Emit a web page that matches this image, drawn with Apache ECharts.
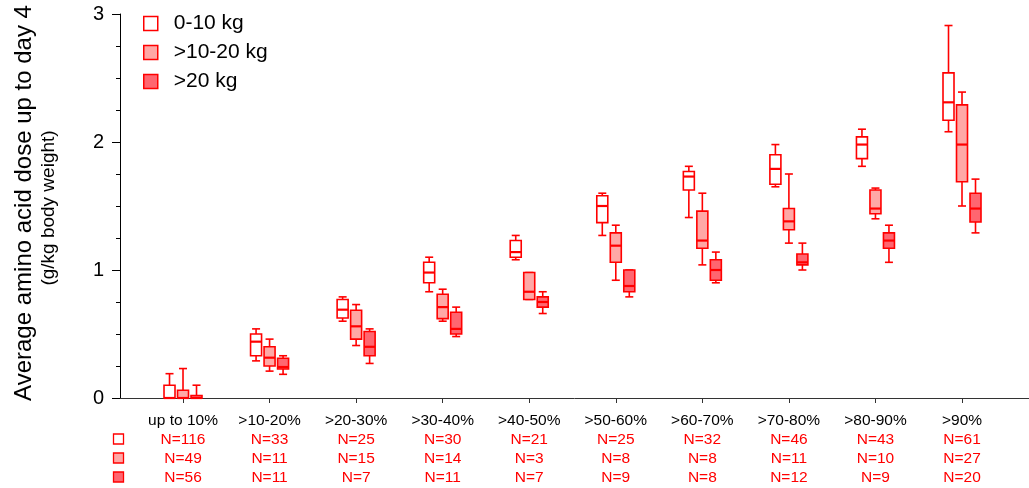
<!DOCTYPE html>
<html>
<head>
<meta charset="utf-8">
<title>Average amino acid dose up to day 4</title>
<script src="https://cdn.jsdelivr.net/npm/echarts@6/dist/echarts.min.js"></script>
<style>
  html, body { margin: 0; padding: 0; background: #fff; }
  #chart { width: 1029px; height: 488px; }
</style>
</head>
<body>
<div id="chart"></div>
<script>
// Percentile groups on the x axis
const categories = ['up to 10%', '>10-20%', '>20-30%', '>30-40%', '>40-50%',
                    '>50-60%', '>60-70%', '>70-80%', '>80-90%', '>90%'];

// Weight classes
const seriesNames = ['0-10 kg', '>10-20 kg', '>20 kg'];

// Box statistics per group: [min, Q1, median, Q3, max] in g/kg body weight
const boxes0to10 = [
  [0.00, 0.00, 0.00, 0.10, 0.19],
  [0.29, 0.33, 0.44, 0.50, 0.54],
  [0.60, 0.625, 0.69, 0.77, 0.79],
  [0.83, 0.90, 0.98, 1.06, 1.10],
  [1.08, 1.10, 1.14, 1.23, 1.27],
  [1.27, 1.37, 1.50, 1.58, 1.60],
  [1.41, 1.625, 1.73, 1.77, 1.81],
  [1.65, 1.67, 1.79, 1.90, 1.98],
  [1.81, 1.87, 1.98, 2.04, 2.10],
  [2.08, 2.17, 2.31, 2.54, 2.91]
];
const boxes10to20 = [
  [0.00, 0.00, 0.00, 0.06, 0.23],
  [0.21, 0.25, 0.315, 0.40, 0.46],
  [0.41, 0.46, 0.56, 0.685, 0.73],
  [0.60, 0.62, 0.71, 0.81, 0.85],
  [0.77, 0.77, 0.83, 0.98, 0.98],
  [0.92, 1.06, 1.19, 1.29, 1.35],
  [1.04, 1.17, 1.23, 1.46, 1.60],
  [1.21, 1.315, 1.38, 1.48, 1.75],
  [1.40, 1.44, 1.48, 1.625, 1.64],
  [1.50, 1.69, 1.98, 2.29, 2.39]
];
const boxesOver20 = [
  [0.00, 0.00, 0.00, 0.02, 0.10],
  [0.185, 0.227, 0.242, 0.31, 0.33],
  [0.27, 0.33, 0.40, 0.52, 0.54],
  [0.48, 0.50, 0.54, 0.67, 0.71],
  [0.66, 0.71, 0.75, 0.79, 0.83],
  [0.79, 0.83, 0.875, 1.00, 1.00],
  [0.90, 0.92, 1.00, 1.08, 1.14],
  [1.00, 1.04, 1.06, 1.125, 1.21],
  [1.06, 1.17, 1.23, 1.29, 1.35],
  [1.29, 1.375, 1.48, 1.60, 1.71]
];

// Number of patients per group
const counts0to10 = [116, 33, 25, 30, 21, 25, 32, 46, 43, 61];
const counts10to20 = [49, 11, 15, 14, 3, 8, 8, 11, 10, 27];
const countsOver20 = [56, 11, 7, 11, 7, 9, 8, 12, 9, 20];

// y axis tick values
const yTicks = [0, 1, 2, 3];

const RED = '#ff0000';
const FILLS = ['#ffffff', '#ffa8a6', '#ff6670'];
const FONT = '"Liberation Sans", Arial, sans-serif';
const BOX_W = 11;      // px
const CAP_W = 8;       // px
const BOX_STEP = 13.5; // px between neighbouring boxes in a group

const chart = echarts.init(document.getElementById('chart'), null, { renderer: 'canvas' });

function renderBox(params, api) {
  const off = (params.seriesIndex - 1) * BOX_STEP;
  const cx = api.coord([api.value(0), 0])[0] + off;
  const yMin = api.coord([0, api.value(1)])[1];
  const yQ1 = api.coord([0, api.value(2)])[1];
  const yMed = api.coord([0, api.value(3)])[1];
  const yQ3 = api.coord([0, api.value(4)])[1];
  const yMax = api.coord([0, api.value(5)])[1];
  const hb = BOX_W / 2, hc = CAP_W / 2;
  const stroke = { stroke: RED, lineWidth: 1.6 };
  return {
    type: 'group',
    children: [
      { type: 'line', shape: { x1: cx, y1: yMax, x2: cx, y2: yQ3 }, style: stroke },
      { type: 'line', shape: { x1: cx, y1: yQ1, x2: cx, y2: yMin }, style: stroke },
      { type: 'line', shape: { x1: cx - hc, y1: yMax, x2: cx + hc, y2: yMax }, style: stroke },
      { type: 'line', shape: { x1: cx - hc, y1: yMin, x2: cx + hc, y2: yMin }, style: stroke },
      { type: 'rect', shape: { x: cx - hb, y: yQ3, width: BOX_W, height: yQ1 - yQ3 },
        style: { fill: FILLS[params.seriesIndex], stroke: RED, lineWidth: 1.6 } },
      { type: 'line', shape: { x1: cx - hb, y1: yMed, x2: cx + hb, y2: yMed },
        style: { stroke: RED, lineWidth: 2.2 } }
    ]
  };
}

function toData(boxes) {
  return boxes.map((b, i) => [i].concat(b));
}

const allBoxes = [boxes0to10, boxes10to20, boxesOver20];
const catIndex = categories.map((_, i) => i);

const option = {
  animation: false,
  backgroundColor: '#ffffff',
  textStyle: { fontFamily: FONT },
  grid: { left: 120, right: 0, top: 14, bottom: 90, containLabel: false },
  legend: {
    orient: 'vertical',
    left: 143,
    top: 13,
    padding: 0,
    itemWidth: 14,
    itemHeight: 14,
    itemGap: 8,
    icon: 'rect',
    selectedMode: false,
    textStyle: { fontFamily: FONT, fontSize: 21, lineHeight: 21, color: '#000', padding: [0, 0, 0, 11] },
    data: seriesNames.map((n, i) => ({
      name: n,
      itemStyle: { color: FILLS[i], borderColor: RED, borderWidth: 1.5 }
    }))
  },
  xAxis: {
    type: 'value',
    min: -0.728,
    max: 9.774,
    splitLine: { show: false },
    axisLine: { show: true, onZero: false, lineStyle: { color: '#333', width: 1 } },
    axisTick: { show: true, length: 5, lineStyle: { color: '#333' }, customValues: catIndex },
    axisLabel: {
      customValues: catIndex,
      fontFamily: FONT,
      fontSize: 15.5,
      lineHeight: 19,
      color: '#000',
      margin: 13,
      formatter: function (v) {
        const i = Math.round(v);
        return categories[i] +
          '\n{n|N=' + counts0to10[i] + '}' +
          '\n{n|N=' + counts10to20[i] + '}' +
          '\n{n|N=' + countsOver20[i] + '}';
      },
      rich: {
        n: { color: RED, fontFamily: FONT, fontSize: 15.5, lineHeight: 19 }
      }
    }
  },
  yAxis: {
    type: 'value',
    min: yTicks[0],
    max: yTicks[yTicks.length - 1],
    interval: 1,
    splitLine: { show: false },
    axisLine: { show: true, onZero: false, lineStyle: { color: '#000', width: 1 } },
    axisTick: { show: true, length: 8, lineStyle: { color: '#000' } },
    minorTick: { show: true, splitNumber: 4, length: 4, lineStyle: { color: '#000' } },
    axisLabel: { fontFamily: FONT, fontSize: 20, color: '#000', margin: 16 }
  },
  graphic: [
    {
      type: 'text', x: 24, y: 203, rotation: Math.PI / 2,
      style: { text: 'Average amino acid dose up to day 4', fontFamily: FONT, fontSize: 24,
               fill: '#000', textAlign: 'center', textVerticalAlign: 'middle' }
    },
    {
      type: 'text', x: 49, y: 208, rotation: Math.PI / 2,
      style: { text: '(g/kg body weight)', fontFamily: FONT, fontSize: 19,
               fill: '#000', textAlign: 'center', textVerticalAlign: 'middle' }
    },
    { type: 'rect', shape: { x: 113.5, y: 434, width: 10, height: 10 },
      style: { fill: FILLS[0], stroke: RED, lineWidth: 1.3 } },
    { type: 'rect', shape: { x: 113.5, y: 453, width: 10, height: 10 },
      style: { fill: FILLS[1], stroke: RED, lineWidth: 1.3 } },
    { type: 'rect', shape: { x: 113.5, y: 472, width: 10, height: 10 },
      style: { fill: FILLS[2], stroke: RED, lineWidth: 1.3 } }
  ],
  series: allBoxes.map((boxes, s) => ({
    name: seriesNames[s],
    type: 'custom',
    clip: false,
    itemStyle: { color: FILLS[s], borderColor: RED },
    encode: { x: 0, y: [1, 2, 3, 4, 5] },
    renderItem: renderBox,
    data: toData(boxes)
  }))
};

chart.setOption(option);
</script>
</body>
</html>
